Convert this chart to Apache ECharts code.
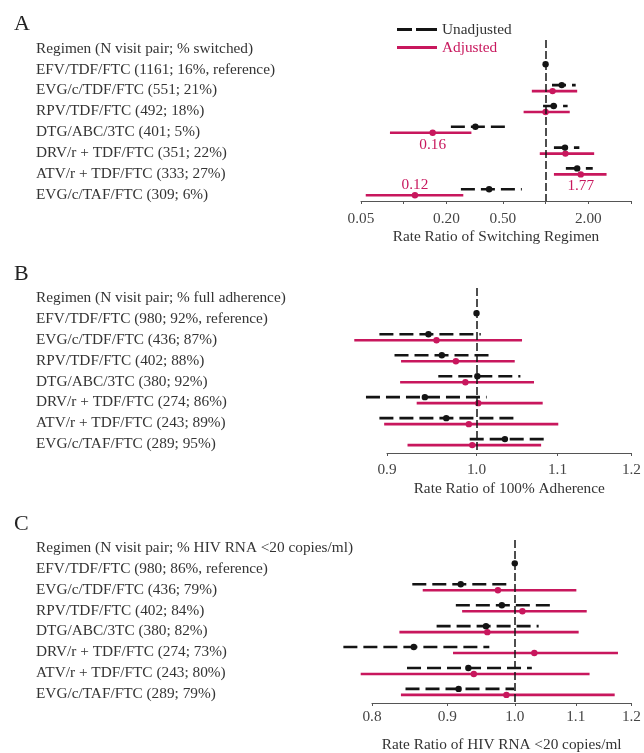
<!DOCTYPE html>
<html>
<head>
<meta charset="utf-8">
<script src="https://cdn.jsdelivr.net/npm/echarts@6/dist/echarts.min.js"></script>
<style>html,body{margin:0;padding:0;background:#fff;}#main{width:644px;height:753px;}</style>
</head>
<body>
<div id="main"></div>
<script>
// ---------- DATA ----------
const switchHeader = 'Regimen (N visit pair; % switched)';
const switchRegimens = ['EFV/TDF/FTC (1161; 16%, reference)', 'EVG/c/TDF/FTC (551; 21%)', 'RPV/TDF/FTC (492; 18%)', 'DTG/ABC/3TC (401; 5%)', 'DRV/r + TDF/FTC (351; 22%)', 'ATV/r + TDF/FTC (333; 27%)', 'EVG/c/TAF/FTC (309; 6%)'];
// [estimate, lower, upper]
const switchUnadj = [[1, 1, 1], [1.30, 1.11, 1.63], [1.14, 0.96, 1.43], [0.32, 0.215, 0.52], [1.37, 1.145, 1.73], [1.67, 1.39, 2.15], [0.40, 0.253, 0.68]];
const switchAdj = [null, [1.12, 0.80, 1.67], [1.00, 0.70, 1.48], [0.16, 0.080, 0.30], [1.38, 0.91, 2.20], [1.77, 1.145, 2.69], [0.12, 0.054, 0.263]];
const switchAdjLabels = ['', '', '', '0.16', '', '1.77', '0.12'];
const switchTicks = [0.05, 0.1, 0.2, 0.5, 1, 2, 4];
const switchTickLabelValues = [0.05, 0.2, 0.5, 2];
const switchTickLabelTexts = ['0.05', '0.20', '0.50', '2.00'];

const adhHeader = 'Regimen (N visit pair; % full adherence)';
const adhRegimens = ['EFV/TDF/FTC (980; 92%, reference)', 'EVG/c/TDF/FTC (436; 87%)', 'RPV/TDF/FTC (402; 88%)', 'DTG/ABC/3TC (380; 92%)', 'DRV/r + TDF/FTC (274; 86%)', 'ATV/r + TDF/FTC (243; 89%)', 'EVG/c/TAF/FTC (289; 95%)'];
const adhUnadj = [[1, 1, 1], [0.945, 0.892, 1.005], [0.960, 0.908, 1.021], [1.001, 0.956, 1.053], [0.941, 0.878, 1.012], [0.965, 0.892, 1.048], [1.034, 0.992, 1.084]];
const adhAdj = [null, [0.954, 0.866, 1.055], [0.976, 0.915, 1.046], [0.987, 0.914, 1.070], [1.002, 0.932, 1.081], [0.991, 0.897, 1.101], [0.995, 0.922, 1.079]];
const adhTicks = [0.9, 1.0, 1.1, 1.2];
const adhTickLabelValues = [0.9, 1.0, 1.1, 1.2];
const adhTickLabelTexts = ['0.9', '1.0', '1.1', '1.2'];

const rnaHeader = 'Regimen (N visit pair; % HIV RNA <20 copies/ml)';
const rnaRegimens = ['EFV/TDF/FTC (980; 86%, reference)', 'EVG/c/TDF/FTC (436; 79%)', 'RPV/TDF/FTC (402; 84%)', 'DTG/ABC/3TC (380; 82%)', 'DRV/r + TDF/FTC (274; 73%)', 'ATV/r + TDF/FTC (243; 80%)', 'EVG/c/TAF/FTC (289; 79%)'];
const rnaUnadj = [[1, 1, 1], [0.919, 0.852, 0.995], [0.980, 0.912, 1.057], [0.956, 0.885, 1.038], [0.854, 0.765, 0.961], [0.930, 0.845, 1.027], [0.916, 0.843, 0.999]];
const rnaAdj = [null, [0.974, 0.866, 1.101], [1.012, 0.921, 1.119], [0.958, 0.835, 1.105], [1.031, 0.908, 1.175], [0.938, 0.786, 1.124], [0.987, 0.837, 1.169]];
const rnaTicks = [0.8, 0.9, 1.0, 1.1, 1.2];
const rnaTickLabelValues = [0.8, 0.9, 1.0, 1.1, 1.2];
const rnaTickLabelTexts = ['0.8', '0.9', '1.0', '1.1', '1.2'];

const panelLetters = ['A', 'B', 'C'];
const axisTitles = ['Rate Ratio of Switching Regimen', 'Rate Ratio of 100% Adherence', 'Rate Ratio of HIV RNA <20 copies/ml'];
const referenceRatio = 1;

// ---------- STYLE / LAYOUT ----------
const RED = '#c8175d';
const BLACK = '#141414';
const TEXT = '#333333';
const FONT = '"Liberation Serif", "DejaVu Serif", serif';
const FS = 15.3;
const ROW_TEXT_SHIFT = 0.11; // row labels sit slightly below the plotted rows
const panels = [
  {header: switchHeader, rows: switchRegimens, unadj: switchUnadj, adj: switchAdj, labels: switchAdjLabels,
   ticks: switchTicks, lv: switchTickLabelValues, lt: switchTickLabelTexts,
   grid: {left: 361, right: 13, top: 40, height: 161}, ymin: -1.31, ymax: 6.42, labelMargin: 10, nameGap: 28},
  {header: adhHeader, rows: adhRegimens, unadj: adhUnadj, adj: adhAdj, labels: null,
   ticks: adhTicks, lv: adhTickLabelValues, lt: adhTickLabelTexts,
   grid: {left: 387, right: 12, top: 288, height: 165}, ymin: -1.35, ymax: 6.52, labelMargin: 9, nameGap: 28},
  {header: rnaHeader, rows: rnaRegimens, unadj: rnaUnadj, adj: rnaAdj, labels: null,
   ticks: rnaTicks, lv: rnaTickLabelValues, lt: rnaTickLabelTexts,
   grid: {left: 372, right: 12, top: 540, height: 163}, ymin: -1.26, ymax: 6.53, labelMargin: 6, nameGap: 34}
];
const letterTops = [8, 258, 508];

function toSeriesData(arr) {
  const out = [];
  arr.forEach((d, i) => { if (d) out.push([i, Math.log(d[1]), Math.log(d[0]), Math.log(d[2])]); });
  return out;
}

function makeRender(offset, color, dash, labels) {
  return function (params, api) {
    const row = api.value(0);
    const lo = api.coord([api.value(1), row]);
    const mid = api.coord([api.value(2), row]);
    const hi = api.coord([api.value(3), row]);
    const y = mid[1] + offset;
    const children = [];
    if (hi[0] - lo[0] > 0.5) {
      children.push({type: 'line', shape: {x1: lo[0], y1: y, x2: hi[0], y2: y},
        style: {stroke: color, lineWidth: 2.6, lineDash: dash}});
    }
    children.push({type: 'circle', shape: {cx: mid[0], cy: y, r: 3.2}, style: {fill: color}});
    if (labels && labels[row]) {
      const above = row === labels.length - 1;
      children.push({type: 'text', style: {text: labels[row], x: mid[0], y: above ? y - 10 : y + 12,
        align: 'center', verticalAlign: 'middle', fill: color, font: FS + 'px ' + FONT}});
    }
    return {type: 'group', children};
  };
}

const option = {
  animation: false,
  backgroundColor: '#fff',
  title: panelLetters.map((t, i) => ({text: t, left: 9, top: letterTops[i],
    textStyle: {fontFamily: FONT, fontSize: 22, fontWeight: 'normal', color: '#222'}})),
  legend: {
    orient: 'vertical', left: 392, top: 17, itemWidth: 40, itemHeight: 3, itemGap: 3, itemTextGap: 5,
    textStyle: {fontFamily: FONT, fontSize: FS},
    data: [
      {name: 'Unadjusted', icon: 'path://M0,0H15V3H0Z M19,0H40V3H19Z', itemStyle: {color: BLACK}, textStyle: {color: TEXT}},
      {name: 'Adjusted', icon: 'rect', itemStyle: {color: RED}, textStyle: {color: RED}}
    ],
    selectedMode: false
  },
  grid: panels.map(p => p.grid),
  xAxis: panels.map((p, i) => ({
    type: 'value', gridIndex: i, position: 'bottom',
    min: Math.log(p.ticks[0]), max: Math.log(p.ticks[p.ticks.length - 1]),
    axisLine: {show: true, onZero: false, lineStyle: {color: '#555', width: 1}},
    axisTick: {show: true, length: 3, lineStyle: {color: '#555'}, customValues: p.ticks.map(Math.log)},
    axisLabel: {
      customValues: p.lv.map(Math.log), margin: p.labelMargin, color: '#444', fontFamily: FONT, fontSize: FS,
      formatter: function (v) {
        for (let k = 0; k < p.lv.length; k++) if (Math.abs(Math.log(p.lv[k]) - v) < 1e-6) return p.lt[k];
        return '';
      }
    },
    splitLine: {show: false},
    name: axisTitles[i], nameLocation: 'middle', nameGap: p.nameGap,
    nameTextStyle: {fontFamily: FONT, fontSize: FS, color: TEXT}
  })),
  yAxis: panels.map((p, i) => ({
    type: 'value', gridIndex: i, inverse: true, min: p.ymin, max: p.ymax,
    axisLine: {show: false}, axisTick: {show: false}, splitLine: {show: false},
    axisLabel: {
      customValues: [-1, 0, 1, 2, 3, 4, 5, 6].map(r => r + ROW_TEXT_SHIFT), align: 'left', margin: p.grid.left - 36,
      color: TEXT, fontFamily: FONT, fontSize: FS,
      formatter: function (v) { const r = Math.round(v); return r < 0 ? p.header : (p.rows[r] || ''); }
    }
  })),
  series: []
};

panels.forEach((p, i) => {
  option.series.push({
    type: 'custom', name: 'Unadjusted', xAxisIndex: i, yAxisIndex: i,
    itemStyle: {color: BLACK}, encode: {x: [1, 2, 3], y: 0},
    renderItem: makeRender(-3, BLACK, [14, 6], null),
    data: toSeriesData(p.unadj), z: 3,
    markLine: {silent: true, symbol: 'none', label: {show: false},
      lineStyle: {color: BLACK, width: 1.5, type: [8, 3]},
      data: [{xAxis: Math.log(referenceRatio)}]}
  });
  option.series.push({
    type: 'custom', name: 'Adjusted', xAxisIndex: i, yAxisIndex: i,
    itemStyle: {color: RED}, encode: {x: [1, 2, 3], y: 0},
    renderItem: makeRender(3, RED, null, p.labels),
    data: toSeriesData(p.adj), z: 2
  });
});

const chart = echarts.init(document.getElementById('main'), null, {renderer: 'canvas'});
chart.setOption(option);
</script>
</body>
</html>
